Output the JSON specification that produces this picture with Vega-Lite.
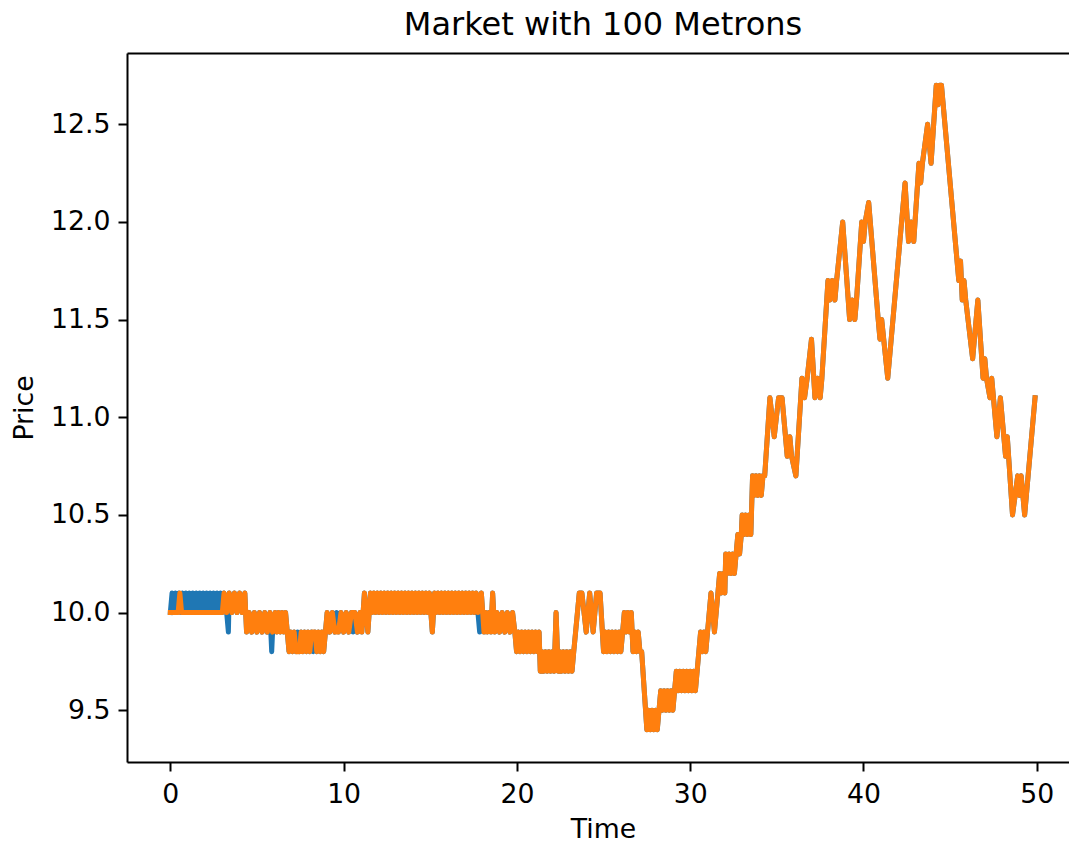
{
 "$schema": "https://vega.github.io/schema/vega-lite/v6.json",
 "width": 942,
 "height": 709,
 "autosize": {"type": "none"},
 "padding": {"left": 127, "top": 53, "right": 0, "bottom": 80},
 "background": "white",
 "config": {"view": {"stroke": null}, "font": "DejaVu Sans"},
 "title": {"text": "Market with 100 Metrons", "fontSize": 32, "fontWeight": "normal", "font": "DejaVu Sans", "color": "black", "anchor": "middle", "frame": "group", "baseline": "alphabetic", "offset": 17, "dx": 5, "dy": 31},
 "data": {"values": [
  {"t":0,"p":10.0,"s":"x"},
  {"t":0.1,"p":10.1,"s":"b"},{"t":0.2,"p":10.0,"s":"b"},{"t":0.3,"p":10.1,"s":"b"},{"t":0.4,"p":10.0,"s":"b"},
  {"t":0.45,"p":10.0,"s":"o"},{"t":0.55,"p":10.1,"s":"o"},{"t":0.65,"p":10.0,"s":"o"},
  {"t":0.5,"p":10.1,"s":"b"},{"t":0.6,"p":10.0,"s":"b"},{"t":0.7,"p":10.1,"s":"b"},{"t":0.8,"p":10.0,"s":"b"},
  {"t":0.9,"p":10.1,"s":"b"},{"t":1.0,"p":10.0,"s":"b"},{"t":1.1,"p":10.1,"s":"b"},{"t":1.2,"p":10.0,"s":"b"},
  {"t":1.3,"p":10.1,"s":"b"},{"t":1.4,"p":10.0,"s":"b"},{"t":1.5,"p":10.1,"s":"b"},{"t":1.6,"p":10.0,"s":"b"},
  {"t":1.7,"p":10.1,"s":"b"},{"t":1.8,"p":10.0,"s":"b"},{"t":1.9,"p":10.1,"s":"b"},{"t":2.0,"p":10.0,"s":"b"},
  {"t":2.1,"p":10.1,"s":"b"},{"t":2.2,"p":10.0,"s":"b"},{"t":2.3,"p":10.1,"s":"b"},{"t":2.4,"p":10.0,"s":"b"},
  {"t":2.5,"p":10.1,"s":"b"},{"t":2.6,"p":10.0,"s":"b"},{"t":2.7,"p":10.1,"s":"b"},{"t":2.8,"p":10.0,"s":"b"},
  {"t":2.9,"p":10.1,"s":"b"},{"t":3.0,"p":10.0,"s":"b"},
  {"t":3.0,"p":10.0,"s":"o"},
  {"t":3.1,"p":10.1,"s":"x"},{"t":3.25,"p":10.0,"s":"x"},{"t":3.35,"p":9.9,"s":"b"},{"t":3.4,"p":10.1,"s":"x"},
  {"t":3.55,"p":10.0,"s":"x"},{"t":3.7,"p":10.1,"s":"x"},{"t":3.85,"p":10.0,"s":"x"},{"t":4.0,"p":10.1,"s":"x"},
  {"t":4.15,"p":10.0,"s":"x"},{"t":4.3,"p":10.1,"s":"x"},
  {"t":4.4,"p":9.9,"s":"x"},{"t":4.55,"p":10.0,"s":"x"},{"t":4.7,"p":9.9,"s":"x"},{"t":4.85,"p":10.0,"s":"x"},
  {"t":5.0,"p":9.9,"s":"x"},{"t":5.15,"p":10.0,"s":"x"},{"t":5.3,"p":9.9,"s":"x"},{"t":5.45,"p":10.0,"s":"x"},
  {"t":5.6,"p":9.9,"s":"x"},{"t":5.75,"p":10.0,"s":"x"},{"t":5.85,"p":9.8,"s":"b"},{"t":5.9,"p":9.9,"s":"x"},
  {"t":6.05,"p":10.0,"s":"x"},{"t":6.15,"p":9.9,"s":"x"},{"t":6.25,"p":10.0,"s":"x"},{"t":6.35,"p":9.9,"s":"x"},
  {"t":6.45,"p":10.0,"s":"x"},{"t":6.55,"p":9.9,"s":"x"},{"t":6.65,"p":10.0,"s":"x"},{"t":6.75,"p":9.9,"s":"x"},
  {"t":6.85,"p":9.8,"s":"x"},{"t":6.95,"p":9.9,"s":"x"},{"t":7.05,"p":9.8,"s":"x"},{"t":7.15,"p":9.9,"s":"x"},
  {"t":7.25,"p":9.8,"s":"x"},{"t":7.35,"p":9.9,"s":"b"},{"t":7.45,"p":9.8,"s":"x"},{"t":7.55,"p":9.9,"s":"x"},
  {"t":7.65,"p":9.8,"s":"x"},{"t":7.75,"p":9.9,"s":"x"},{"t":7.85,"p":9.8,"s":"x"},{"t":7.95,"p":9.9,"s":"x"},
  {"t":8.05,"p":9.8,"s":"x"},{"t":8.15,"p":9.9,"s":"x"},{"t":8.25,"p":9.8,"s":"b"},{"t":8.35,"p":9.9,"s":"x"},
  {"t":8.45,"p":9.8,"s":"x"},{"t":8.55,"p":9.9,"s":"x"},{"t":8.65,"p":9.8,"s":"x"},{"t":8.75,"p":9.9,"s":"x"},
  {"t":8.85,"p":9.8,"s":"x"},{"t":8.95,"p":9.9,"s":"x"},
  {"t":9.05,"p":10.0,"s":"x"},{"t":9.2,"p":9.9,"s":"x"},{"t":9.35,"p":10.0,"s":"x"},{"t":9.5,"p":9.9,"s":"x"},
  {"t":9.6,"p":10.0,"s":"b"},{"t":9.7,"p":9.9,"s":"x"},{"t":9.85,"p":10.0,"s":"x"},{"t":10.0,"p":9.9,"s":"x"},
  {"t":10.15,"p":10.0,"s":"x"},{"t":10.3,"p":9.9,"s":"x"},{"t":10.45,"p":10.0,"s":"x"},{"t":10.55,"p":9.9,"s":"b"},
  {"t":10.65,"p":10.0,"s":"x"},{"t":10.8,"p":9.9,"s":"x"},{"t":10.95,"p":10.0,"s":"x"},{"t":11.05,"p":9.9,"s":"x"},
  {"t":11.2,"p":10.1,"s":"x"},{"t":11.4,"p":9.9,"s":"x"},{"t":11.55,"p":10.1,"s":"x"},
  {"t":11.65,"p":10.0,"s":"x"},{"t":11.75,"p":10.1,"s":"x"},{"t":11.85,"p":10.0,"s":"x"},{"t":11.95,"p":10.1,"s":"x"},
  {"t":12.05,"p":10.0,"s":"x"},{"t":12.15,"p":10.1,"s":"x"},{"t":12.25,"p":10.0,"s":"x"},{"t":12.35,"p":10.1,"s":"x"},
  {"t":12.45,"p":10.0,"s":"x"},{"t":12.55,"p":10.1,"s":"x"},{"t":12.65,"p":10.0,"s":"x"},{"t":12.75,"p":10.1,"s":"x"},
  {"t":12.85,"p":10.0,"s":"x"},{"t":12.95,"p":10.1,"s":"x"},{"t":13.05,"p":10.0,"s":"x"},{"t":13.15,"p":10.1,"s":"x"},
  {"t":13.25,"p":10.0,"s":"x"},{"t":13.35,"p":10.1,"s":"x"},{"t":13.45,"p":10.0,"s":"x"},{"t":13.55,"p":10.1,"s":"x"},
  {"t":13.65,"p":10.0,"s":"x"},{"t":13.75,"p":10.1,"s":"x"},{"t":13.85,"p":10.0,"s":"x"},{"t":13.95,"p":10.1,"s":"x"},
  {"t":14.05,"p":10.0,"s":"x"},{"t":14.15,"p":10.1,"s":"x"},{"t":14.25,"p":10.0,"s":"x"},{"t":14.35,"p":10.1,"s":"x"},
  {"t":14.45,"p":10.0,"s":"x"},{"t":14.55,"p":10.1,"s":"x"},{"t":14.65,"p":10.0,"s":"x"},{"t":14.75,"p":10.1,"s":"x"},
  {"t":14.85,"p":10.0,"s":"x"},{"t":14.95,"p":10.1,"s":"x"},{"t":15.12,"p":9.9,"s":"x"},{"t":15.25,"p":10.1,"s":"x"},
  {"t":15.35,"p":10.0,"s":"x"},{"t":15.45,"p":10.1,"s":"x"},{"t":15.55,"p":10.0,"s":"x"},{"t":15.65,"p":10.1,"s":"x"},
  {"t":15.75,"p":10.0,"s":"x"},{"t":15.85,"p":10.1,"s":"x"},{"t":15.95,"p":10.0,"s":"x"},{"t":16.05,"p":10.1,"s":"x"},
  {"t":16.15,"p":10.0,"s":"x"},{"t":16.25,"p":10.1,"s":"x"},{"t":16.35,"p":10.0,"s":"x"},{"t":16.45,"p":10.1,"s":"x"},
  {"t":16.55,"p":10.0,"s":"x"},{"t":16.65,"p":10.1,"s":"x"},{"t":16.75,"p":10.0,"s":"x"},{"t":16.85,"p":10.1,"s":"x"},
  {"t":16.95,"p":10.0,"s":"x"},{"t":17.05,"p":10.1,"s":"x"},{"t":17.15,"p":10.0,"s":"x"},{"t":17.25,"p":10.1,"s":"x"},
  {"t":17.35,"p":10.0,"s":"x"},{"t":17.45,"p":10.1,"s":"x"},{"t":17.55,"p":10.0,"s":"x"},{"t":17.65,"p":10.1,"s":"x"},
  {"t":17.75,"p":10.0,"s":"x"},{"t":17.85,"p":9.9,"s":"b"},{"t":17.95,"p":10.1,"s":"x"},
  {"t":18.1,"p":9.9,"s":"x"},{"t":18.2,"p":10.0,"s":"x"},{"t":18.3,"p":9.9,"s":"x"},{"t":18.4,"p":10.0,"s":"x"},
  {"t":18.5,"p":9.9,"s":"x"},{"t":18.6,"p":10.1,"s":"x"},{"t":18.72,"p":9.9,"s":"x"},{"t":18.85,"p":10.0,"s":"x"},
  {"t":19.0,"p":9.9,"s":"x"},{"t":19.15,"p":10.0,"s":"x"},{"t":19.3,"p":9.9,"s":"x"},{"t":19.45,"p":10.0,"s":"x"},
  {"t":19.6,"p":9.9,"s":"x"},{"t":19.75,"p":10.0,"s":"x"},{"t":19.88,"p":9.9,"s":"x"},
  {"t":19.98,"p":9.8,"s":"x"},{"t":20.08,"p":9.9,"s":"x"},{"t":20.18,"p":9.8,"s":"x"},{"t":20.28,"p":9.9,"s":"x"},
  {"t":20.38,"p":9.8,"s":"x"},{"t":20.48,"p":9.9,"s":"x"},{"t":20.58,"p":9.8,"s":"x"},{"t":20.68,"p":9.9,"s":"x"},
  {"t":20.78,"p":9.8,"s":"x"},{"t":20.88,"p":9.9,"s":"x"},{"t":20.98,"p":9.8,"s":"x"},{"t":21.08,"p":9.9,"s":"x"},
  {"t":21.18,"p":9.8,"s":"x"},{"t":21.28,"p":9.9,"s":"x"},
  {"t":21.35,"p":9.7,"s":"x"},{"t":21.45,"p":9.8,"s":"x"},{"t":21.55,"p":9.7,"s":"x"},{"t":21.65,"p":9.8,"s":"x"},
  {"t":21.75,"p":9.7,"s":"x"},{"t":21.85,"p":9.8,"s":"x"},{"t":21.95,"p":9.7,"s":"x"},{"t":22.05,"p":9.8,"s":"x"},
  {"t":22.15,"p":9.7,"s":"x"},{"t":22.26,"p":10.0,"s":"x"},{"t":22.38,"p":9.7,"s":"x"},{"t":22.48,"p":9.8,"s":"x"},
  {"t":22.58,"p":9.7,"s":"x"},{"t":22.68,"p":9.8,"s":"x"},{"t":22.78,"p":9.7,"s":"x"},{"t":22.88,"p":9.8,"s":"x"},
  {"t":22.98,"p":9.7,"s":"x"},{"t":23.08,"p":9.8,"s":"x"},{"t":23.18,"p":9.7,"s":"x"},{"t":23.28,"p":9.8,"s":"x"},
  {"t":23.6,"p":10.1,"s":"x"},{"t":23.75,"p":10.1,"s":"x"},{"t":24.0,"p":9.9,"s":"x"},{"t":24.2,"p":10.1,"s":"x"},
  {"t":24.4,"p":9.9,"s":"x"},{"t":24.6,"p":10.1,"s":"x"},{"t":24.8,"p":10.1,"s":"x"},
  {"t":25.0,"p":9.8,"s":"x"},{"t":25.1,"p":9.9,"s":"x"},{"t":25.2,"p":9.8,"s":"x"},{"t":25.3,"p":9.9,"s":"x"},
  {"t":25.4,"p":9.8,"s":"x"},{"t":25.5,"p":9.9,"s":"x"},{"t":25.6,"p":9.8,"s":"x"},{"t":25.7,"p":9.9,"s":"x"},
  {"t":25.8,"p":9.8,"s":"x"},{"t":25.9,"p":9.9,"s":"x"},{"t":26.0,"p":9.8,"s":"x"},{"t":26.1,"p":9.9,"s":"x"},
  {"t":26.2,"p":10.0,"s":"x"},{"t":26.3,"p":9.9,"s":"x"},{"t":26.4,"p":10.0,"s":"x"},{"t":26.5,"p":9.9,"s":"x"},
  {"t":26.6,"p":10.0,"s":"x"},{"t":26.7,"p":9.8,"s":"x"},{"t":26.8,"p":9.9,"s":"x"},{"t":26.9,"p":9.8,"s":"x"},
  {"t":27.0,"p":9.9,"s":"x"},{"t":27.1,"p":9.8,"s":"x"},{"t":27.2,"p":9.8,"s":"x"},
  {"t":27.5,"p":9.4,"s":"x"},{"t":27.6,"p":9.5,"s":"x"},{"t":27.7,"p":9.4,"s":"x"},{"t":27.8,"p":9.5,"s":"x"},
  {"t":27.9,"p":9.4,"s":"x"},{"t":28.0,"p":9.5,"s":"x"},{"t":28.1,"p":9.4,"s":"x"},{"t":28.2,"p":9.5,"s":"x"},
  {"t":28.3,"p":9.6,"s":"x"},{"t":28.4,"p":9.5,"s":"x"},{"t":28.5,"p":9.6,"s":"x"},{"t":28.6,"p":9.5,"s":"x"},
  {"t":28.7,"p":9.6,"s":"x"},{"t":28.8,"p":9.5,"s":"x"},{"t":28.9,"p":9.6,"s":"x"},{"t":29.0,"p":9.5,"s":"x"},
  {"t":29.1,"p":9.6,"s":"x"},{"t":29.2,"p":9.7,"s":"x"},{"t":29.3,"p":9.6,"s":"x"},{"t":29.4,"p":9.7,"s":"x"},
  {"t":29.5,"p":9.6,"s":"x"},{"t":29.6,"p":9.7,"s":"x"},{"t":29.7,"p":9.6,"s":"x"},{"t":29.8,"p":9.7,"s":"x"},
  {"t":29.9,"p":9.6,"s":"x"},{"t":30.0,"p":9.7,"s":"x"},{"t":30.1,"p":9.6,"s":"x"},{"t":30.2,"p":9.7,"s":"x"},
  {"t":30.3,"p":9.6,"s":"x"},{"t":30.4,"p":9.7,"s":"x"},
  {"t":30.5,"p":9.8,"s":"x"},{"t":30.6,"p":9.9,"s":"x"},{"t":30.7,"p":9.8,"s":"x"},{"t":30.8,"p":9.9,"s":"x"},
  {"t":30.9,"p":9.8,"s":"x"},{"t":31.0,"p":9.9,"s":"x"},
  {"t":31.2,"p":10.1,"s":"x"},{"t":31.4,"p":9.9,"s":"x"},
  {"t":31.7,"p":10.2,"s":"x"},{"t":31.8,"p":10.1,"s":"x"},{"t":31.9,"p":10.2,"s":"x"},{"t":32.0,"p":10.1,"s":"x"},
  {"t":32.05,"p":10.3,"s":"x"},{"t":32.15,"p":10.2,"s":"x"},{"t":32.25,"p":10.3,"s":"x"},{"t":32.35,"p":10.2,"s":"x"},
  {"t":32.45,"p":10.3,"s":"x"},{"t":32.55,"p":10.2,"s":"x"},{"t":32.65,"p":10.3,"s":"x"},{"t":32.75,"p":10.4,"s":"x"},
  {"t":32.85,"p":10.3,"s":"x"},{"t":32.95,"p":10.4,"s":"x"},
  {"t":33.0,"p":10.5,"s":"x"},{"t":33.1,"p":10.4,"s":"x"},{"t":33.2,"p":10.5,"s":"x"},{"t":33.3,"p":10.4,"s":"x"},
  {"t":33.4,"p":10.5,"s":"x"},{"t":33.5,"p":10.4,"s":"x"},
  {"t":33.6,"p":10.7,"s":"x"},{"t":33.7,"p":10.6,"s":"x"},{"t":33.8,"p":10.7,"s":"x"},{"t":33.9,"p":10.6,"s":"x"},
  {"t":34.0,"p":10.7,"s":"x"},{"t":34.1,"p":10.6,"s":"x"},{"t":34.2,"p":10.7,"s":"x"},{"t":34.3,"p":10.7,"s":"x"},
  {"t":34.6,"p":11.1,"s":"x"},{"t":34.85,"p":10.9,"s":"x"},{"t":35.1,"p":11.1,"s":"x"},{"t":35.3,"p":11.1,"s":"x"},
  {"t":35.5,"p":10.9,"s":"x"},{"t":35.6,"p":10.8,"s":"x"},{"t":35.75,"p":10.9,"s":"x"},{"t":35.85,"p":10.8,"s":"x"},
  {"t":36.1,"p":10.7,"s":"x"},{"t":36.45,"p":11.2,"s":"x"},{"t":36.6,"p":11.1,"s":"x"},{"t":36.75,"p":11.2,"s":"x"},
  {"t":37.0,"p":11.4,"s":"x"},{"t":37.2,"p":11.1,"s":"x"},{"t":37.35,"p":11.2,"s":"x"},{"t":37.5,"p":11.1,"s":"x"},
  {"t":37.6,"p":11.2,"s":"x"},{"t":37.95,"p":11.7,"s":"x"},{"t":38.05,"p":11.6,"s":"x"},{"t":38.2,"p":11.7,"s":"x"},
  {"t":38.35,"p":11.6,"s":"x"},{"t":38.45,"p":11.7,"s":"x"},{"t":38.8,"p":12.0,"s":"x"},{"t":39.2,"p":11.5,"s":"x"},
  {"t":39.35,"p":11.6,"s":"x"},{"t":39.5,"p":11.5,"s":"x"},{"t":39.6,"p":11.6,"s":"x"},{"t":39.9,"p":12.0,"s":"x"},
  {"t":40.0,"p":11.9,"s":"x"},{"t":40.1,"p":12.0,"s":"x"},{"t":40.3,"p":12.1,"s":"x"},{"t":40.85,"p":11.5,"s":"x"},
  {"t":40.95,"p":11.4,"s":"x"},{"t":41.05,"p":11.5,"s":"x"},{"t":41.4,"p":11.2,"s":"x"},{"t":42.4,"p":12.2,"s":"x"},
  {"t":42.6,"p":11.9,"s":"x"},{"t":42.75,"p":12.0,"s":"x"},{"t":42.9,"p":11.9,"s":"x"},{"t":43.2,"p":12.3,"s":"x"},
  {"t":43.3,"p":12.2,"s":"x"},{"t":43.4,"p":12.3,"s":"x"},{"t":43.7,"p":12.5,"s":"x"},{"t":43.9,"p":12.3,"s":"x"},
  {"t":44.2,"p":12.7,"s":"x"},{"t":44.3,"p":12.6,"s":"x"},{"t":44.4,"p":12.7,"s":"x"},{"t":44.5,"p":12.7,"s":"x"},
  {"t":45.4,"p":11.8,"s":"x"},{"t":45.5,"p":11.7,"s":"x"},{"t":45.6,"p":11.8,"s":"x"},{"t":45.7,"p":11.6,"s":"x"},
  {"t":45.8,"p":11.7,"s":"x"},{"t":45.9,"p":11.6,"s":"x"},{"t":46.3,"p":11.3,"s":"x"},{"t":46.6,"p":11.6,"s":"x"},
  {"t":46.9,"p":11.2,"s":"x"},{"t":47.0,"p":11.3,"s":"x"},{"t":47.1,"p":11.2,"s":"x"},{"t":47.3,"p":11.1,"s":"x"},
  {"t":47.4,"p":11.2,"s":"x"},{"t":47.7,"p":10.9,"s":"x"},{"t":47.9,"p":11.1,"s":"x"},{"t":48.1,"p":10.9,"s":"x"},
  {"t":48.2,"p":10.8,"s":"x"},{"t":48.3,"p":10.9,"s":"x"},{"t":48.6,"p":10.5,"s":"x"},{"t":48.9,"p":10.7,"s":"x"},
  {"t":49.0,"p":10.6,"s":"x"},{"t":49.1,"p":10.7,"s":"x"},{"t":49.3,"p":10.5,"s":"x"},{"t":49.9,"p":11.1,"s":"x"}
 ]},
 "encoding": {
  "y": {"field": "p", "type": "quantitative", "scale": {"domain": [9.235, 12.865], "nice": false, "zero": false},
   "axis": {"values": [9.5, 10, 10.5, 11, 11.5, 12, 12.5], "format": ".1f", "title": "Price", "grid": false,
    "labelFont": "DejaVu Sans", "labelFontSize": 26.7, "labelColor": "black", "labelPadding": 8,
    "tickSize": 9, "tickWidth": 2, "tickColor": "black", "domainColor": "black", "domainWidth": 2,
    "titleFont": "DejaVu Sans", "titleFontSize": 26.7, "titleFontWeight": "normal", "titleColor": "black",
    "titleAngle": -90, "titleX": -95, "titleY": 354.5, "titleAlign": "center", "titleBaseline": "alphabetic"}}
 },
 "layer": [
  {"transform": [{"filter": "datum.s != 'o'"}],
   "mark": {"type": "line", "color": "#1f77b4", "strokeWidth": 5, "strokeJoin": "round", "strokeCap": "square"},
   "encoding": {"x": {"field": "t", "type": "quantitative", "scale": {"domain": [-2.5, 51.86], "nice": false, "zero": false},
    "axis": {"orient": "bottom", "values": [0, 10, 20, 30, 40, 50], "format": "d", "title": "Time", "grid": false,
     "labelFont": "DejaVu Sans", "labelFontSize": 26.7, "labelColor": "black", "labelPadding": 10, "labelFlush": false,
     "tickSize": 9, "tickWidth": 2, "tickColor": "black", "domainColor": "black", "domainWidth": 2,
     "titleFont": "DejaVu Sans", "titleFontSize": 26.7, "titleFontWeight": "normal", "titleColor": "black",
     "titleX": 476, "titleY": 75, "titleAlign": "center", "titleBaseline": "alphabetic"}}}},
  {"transform": [{"filter": "datum.s != 'b'"}],
   "mark": {"type": "line", "color": "#ff7f0e", "strokeWidth": 5, "strokeJoin": "round", "strokeCap": "square"},
   "encoding": {"x": {"field": "t", "type": "quantitative", "scale": {"domain": [-2.5, 51.86], "nice": false, "zero": false},
    "axis": {"orient": "top", "labels": false, "ticks": false, "title": null, "grid": false, "minExtent": 0, "maxExtent": 0, "domainColor": "black", "domainWidth": 2}}}}
 ],
 "resolve": {"axis": {"x": "independent"}}
}
